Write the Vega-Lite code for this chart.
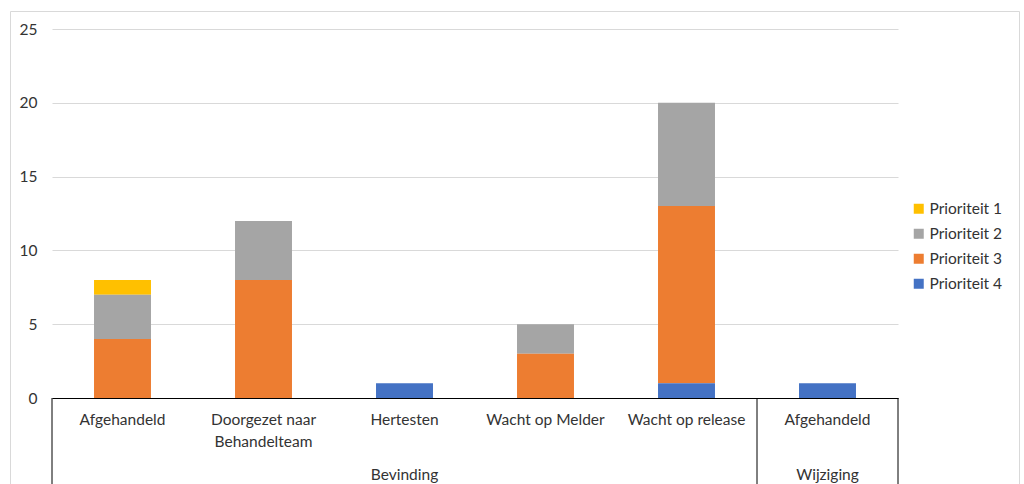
{
  "$schema": "https://vega.github.io/schema/vega-lite/v6.json",
  "width": 1009,
  "height": 480,
  "autosize": {"type": "none"},
  "padding": {"left": 10, "top": 11, "right": 5, "bottom": 0},
  "background": "white",
  "config": {
    "font": "Lato",
    "view": {"stroke": "#d9d9d9", "strokeWidth": 1},
    "axis": {"labelFont": "Lato", "labelFontSize": 15.5, "labelColor": "#333333"},
    "legend": {"labelFont": "Lato", "labelFontSize": 15.5, "labelColor": "#333333"}
  },
  "data": {
    "values": [
      {"key": "Bevinding|Afgehandeld", "groep": "Bevinding", "prioriteit": "Prioriteit 1", "aantal": 1},
      {"key": "Bevinding|Afgehandeld", "groep": "Bevinding", "prioriteit": "Prioriteit 2", "aantal": 3},
      {"key": "Bevinding|Afgehandeld", "groep": "Bevinding", "prioriteit": "Prioriteit 3", "aantal": 4},
      {"key": "Bevinding|Doorgezet naar~Behandelteam", "groep": "Bevinding", "prioriteit": "Prioriteit 2", "aantal": 4},
      {"key": "Bevinding|Doorgezet naar~Behandelteam", "groep": "Bevinding", "prioriteit": "Prioriteit 3", "aantal": 8},
      {"key": "Bevinding|Hertesten", "groep": "Bevinding", "prioriteit": "Prioriteit 4", "aantal": 1},
      {"key": "Bevinding|Wacht op Melder", "groep": "Bevinding", "prioriteit": "Prioriteit 2", "aantal": 2},
      {"key": "Bevinding|Wacht op Melder", "groep": "Bevinding", "prioriteit": "Prioriteit 3", "aantal": 3},
      {"key": "Bevinding|Wacht op release", "groep": "Bevinding", "prioriteit": "Prioriteit 2", "aantal": 7},
      {"key": "Bevinding|Wacht op release", "groep": "Bevinding", "prioriteit": "Prioriteit 3", "aantal": 12},
      {"key": "Bevinding|Wacht op release", "groep": "Bevinding", "prioriteit": "Prioriteit 4", "aantal": 1},
      {"key": "Wijziging|Afgehandeld", "groep": "Wijziging", "prioriteit": "Prioriteit 4", "aantal": 1}
    ]
  },
  "layer": [
    {
      "mark": {"type": "bar", "width": {"band": 0.404}},
      "encoding": {
        "x": {
          "field": "key",
          "type": "nominal",
          "scale": {
            "domain": ["Bevinding|Afgehandeld", "Bevinding|Doorgezet naar~Behandelteam", "Bevinding|Hertesten", "Bevinding|Wacht op Melder", "Bevinding|Wacht op release", "Wijziging|Afgehandeld"],
            "range": [42, 888],
            "paddingInner": 0,
            "paddingOuter": 0
          },
          "axis": {
            "title": null,
            "orient": "bottom",
            "offset": -93,
            "domainColor": "#000000",
            "domainWidth": 1,
            "ticks": false,
            "grid": false,
            "labelAngle": 0,
            "labelPadding": 14,
            "labelLineHeight": 22,
            "labelBaseline": "top",
            "labelLimit": 300,
            "labelExpr": "split(split(datum.label, '|')[1], '~')"
          }
        },
        "y": {
          "field": "aantal",
          "type": "quantitative",
          "stack": "zero",
          "scale": {"domain": [0, 25], "range": [387, 18], "nice": false},
          "axis": {
            "title": null,
            "values": [0, 5, 10, 15, 20, 25],
            "grid": true,
            "gridColor": "#d9d9d9",
            "gridWidth": 1,
            "domain": false,
            "ticks": false,
            "offset": -42,
            "labelPadding": 15
          }
        },
        "color": {
          "field": "prioriteit",
          "type": "nominal",
          "scale": {
            "domain": ["Prioriteit 1", "Prioriteit 2", "Prioriteit 3", "Prioriteit 4"],
            "range": ["#FFC000", "#A5A5A5", "#ED7D31", "#4472C4"]
          },
          "legend": {
            "title": null,
            "orient": "none",
            "legendX": 901,
            "legendY": 190,
            "padding": 0,
            "symbolType": "square",
            "symbolSize": 100,
            "symbolStrokeWidth": 0,
            "labelOffset": 3,
            "rowPadding": 8
          }
        },
        "order": {"field": "prioriteit", "sort": "descending"}
      }
    },
    {
      "data": {"values": [{"key": "Bevinding|Hertesten", "groep": "Bevinding"}, {"key": "Wijziging|Afgehandeld", "groep": "Wijziging"}]},
      "mark": {"type": "text", "fontSize": 15.5, "color": "#333333", "baseline": "middle", "align": "center"},
      "encoding": {
        "x": {"field": "key", "type": "nominal"},
        "y": {"datum": -5.25},
        "text": {"field": "groep"}
      }
    },
    {
      "data": {"values": [{"key": "Bevinding|Afgehandeld"}, {"key": "Wijziging|Afgehandeld"}]},
      "mark": {"type": "rule", "color": "#000000", "strokeWidth": 1},
      "encoding": {
        "x": {"field": "key", "type": "nominal", "bandPosition": 0},
        "y": {"datum": 0},
        "y2": {"datum": -8}
      }
    },
    {
      "data": {"values": [{"key": "Wijziging|Afgehandeld"}]},
      "mark": {"type": "rule", "color": "#000000", "strokeWidth": 1},
      "encoding": {
        "x": {"field": "key", "type": "nominal", "bandPosition": 1},
        "y": {"datum": 0},
        "y2": {"datum": -8}
      }
    }
  ]
}
